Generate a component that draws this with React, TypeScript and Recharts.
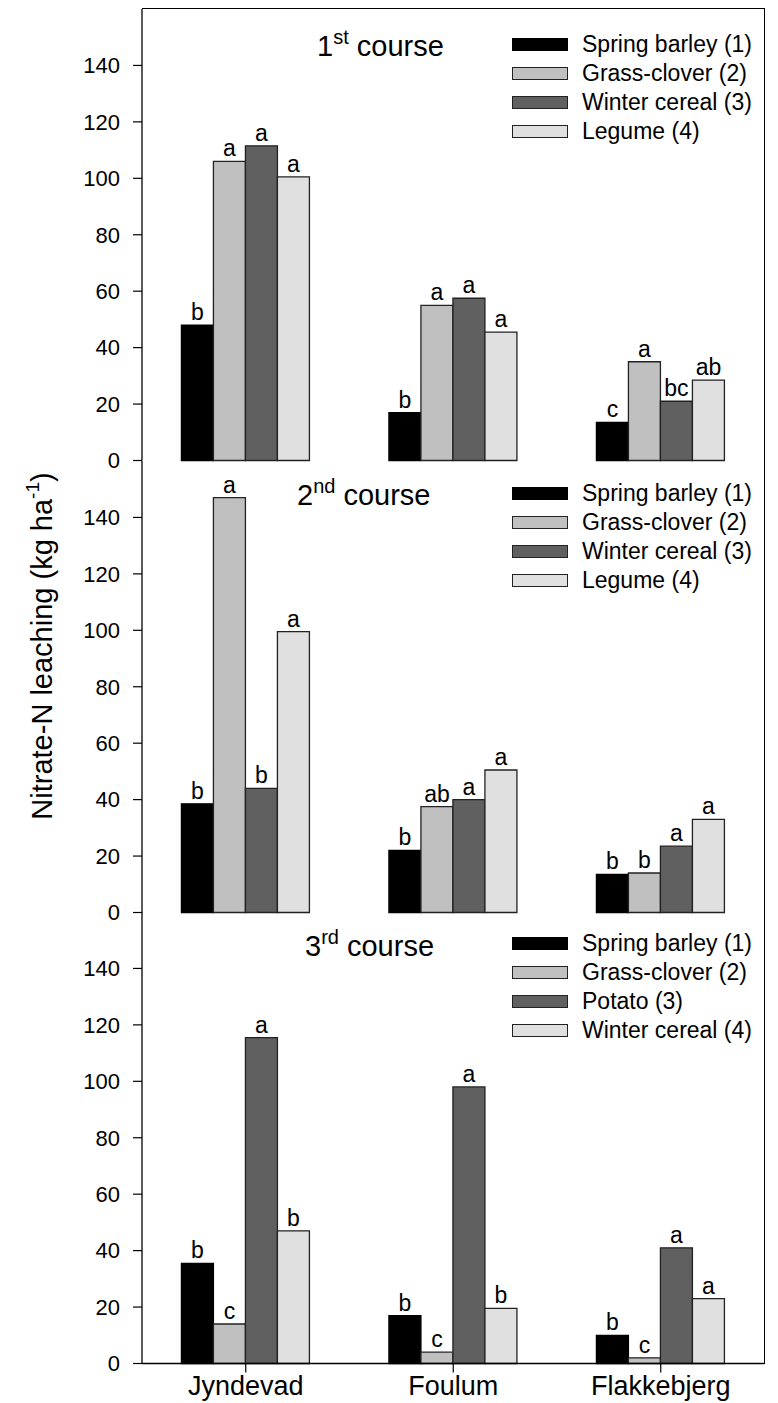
import React from 'react';
import { BarChart, Bar, XAxis, YAxis, LabelList, Legend } from 'recharts';

const sites = ['Jyndevad', 'Foulum', 'Flakkebjerg'];
const yTicks = [0, 20, 40, 60, 80, 100, 120, 140];

// 1st course
const names1 = ['Spring barley (1)', 'Grass-clover (2)', 'Winter cereal (3)', 'Legume (4)'];
const c1SpringBarley = [48, 17, 13.5];
const c1GrassClover = [106, 55, 35];
const c1WinterCereal = [111.5, 57.5, 21];
const c1Legume = [100.5, 45.5, 28.5];
const c1Letters = [['b', 'a', 'a', 'a'], ['b', 'a', 'a', 'a'], ['c', 'a', 'bc', 'ab']];

// 2nd course
const names2 = ['Spring barley (1)', 'Grass-clover (2)', 'Winter cereal (3)', 'Legume (4)'];
const c2SpringBarley = [38.5, 22, 13.5];
const c2GrassClover = [147, 37.5, 14];
const c2WinterCereal = [44, 40, 23.5];
const c2Legume = [99.5, 50.5, 33];
const c2Letters = [['b', 'a', 'b', 'a'], ['b', 'ab', 'a', 'a'], ['b', 'b', 'a', 'a']];

// 3rd course
const names3 = ['Spring barley (1)', 'Grass-clover (2)', 'Potato (3)', 'Winter cereal (4)'];
const c3SpringBarley = [35.5, 17, 10];
const c3GrassClover = [14, 4, 2];
const c3Potato = [115.5, 98, 41];
const c3WinterCereal = [47, 19.5, 23];
const c3Letters = [['b', 'c', 'a', 'b'], ['b', 'c', 'a', 'b'], ['b', 'c', 'a', 'a']];

const fills = ['#000000', '#c0c0c0', '#606060', '#e0e0e0'];
const FONT = '"Liberation Sans", Arial, sans-serif';

const buildRows = (series: number[][], letters: string[][]) =>
  sites.map((site, i) => ({
    site,
    v1: series[0][i], v2: series[1][i], v3: series[2][i], v4: series[3][i],
    l1: letters[i][0], l2: letters[i][1], l3: letters[i][2], l4: letters[i][3],
  }));

const PH = 451.5;
const MT = 14;
const PLOT_LEFT = 142;
const PLOT_RIGHT = 764.5;

const LegendBox = ({ names }: { names: string[] }) => (
  <div style={{ fontFamily: FONT }}>
    {names.map((n, i) => (
      <div key={i} style={{ display: 'flex', alignItems: 'center', height: 29 }}>
        <div
          style={{
            width: 54,
            height: 11,
            background: fills[i],
            border: '1.5px solid ' + (i === 0 ? '#000' : '#222'),
            marginRight: 14,
          }}
        />
        <span style={{ fontSize: 23, color: '#000', whiteSpace: 'nowrap' }}>{n}</span>
      </div>
    ))}
  </div>
);

type PanelProps = {
  rows: any[];
  names: string[];
  plotTop: number;
  showX: boolean;
  legendTop: number;
  topBorder: boolean;
};

const Panel = ({ rows, names, plotTop, showX, legendTop, topBorder }: PanelProps) => {
  const xh = showX ? 42 : 0;
  const mb = showX ? 0 : 14;
  const height = MT + PH + xh + mb;
  return (
    <>
      <div style={{ position: 'absolute', left: 0, top: plotTop - MT }}>
        <BarChart
          width={778}
          height={height}
          data={rows}
          margin={{ top: MT, right: 778 - PLOT_RIGHT, bottom: mb, left: 0 }}
          barCategoryGap="19%"
          barGap={0}
        >
          <XAxis
            dataKey="site"
            height={xh}
            axisLine={{ stroke: '#000', strokeWidth: 1.3 }}
            tickLine={showX ? { stroke: '#000', strokeWidth: 1.2 } : false}
            tick={showX ? { fontSize: 27, fill: '#000', fontFamily: FONT } : false}
            tickSize={9}
            tickMargin={3}
            interval={0}
          />
          <YAxis
            width={PLOT_LEFT}
            domain={[0, 160]}
            ticks={yTicks}
            interval={0}
            axisLine={{ stroke: '#000', strokeWidth: 1.3 }}
            tickLine={{ stroke: '#000', strokeWidth: 1.2 }}
            tickSize={9}
            tickMargin={13}
            tick={{ fontSize: 22, fill: '#000', fontFamily: FONT }}
          />
          <Legend
            layout="vertical"
            align="center"
            verticalAlign="middle"
            content={<LegendBox names={names} />}
            wrapperStyle={{ left: 512, top: legendTop - (plotTop - MT), width: 262 }}
          />
          {['v1', 'v2', 'v3', 'v4'].map((k, i) => (
            <Bar
              key={k}
              dataKey={k}
              name={names[i]}
              fill={fills[i]}
              stroke={i === 0 ? '#000' : '#222'}
              strokeWidth={1.3}
              isAnimationActive={false}
            >
              <LabelList dataKey={'l' + (i + 1)} position="top" offset={5} fill="#000" fontSize={23} fontFamily={FONT} />
            </Bar>
          ))}
        </BarChart>
      </div>
      <div
        style={{
          position: 'absolute',
          left: PLOT_LEFT,
          top: plotTop - (topBorder ? 0.65 : 0),
          width: PLOT_RIGHT - PLOT_LEFT - 0.65,
          height: PH,
          borderRight: '1.3px solid #000',
          borderTop: topBorder ? '1.3px solid #000' : 'none',
          pointerEvents: 'none',
        }}
      />
    </>
  );
};

const Title = ({ x, y, num, sup }: { x: number; y: number; num: string; sup: string }) => (
  <text x={x} y={y} fontSize={29} fontFamily={FONT} fill="#000">
    {num}
    <tspan dy={-12} fontSize={20}>{sup}</tspan>
    <tspan dy={12}> course</tspan>
  </text>
);

export default function App() {
  const rows1 = buildRows([c1SpringBarley, c1GrassClover, c1WinterCereal, c1Legume], c1Letters);
  const rows2 = buildRows([c2SpringBarley, c2GrassClover, c2WinterCereal, c2Legume], c2Letters);
  const rows3 = buildRows([c3SpringBarley, c3GrassClover, c3Potato, c3WinterCereal], c3Letters);
  const top1 = 9;
  const top2 = top1 + PH;
  const top3 = top2 + PH;
  return (
    <div style={{ position: 'absolute', left: 0, top: 0, width: 778, height: 1403, background: '#fff', fontFamily: FONT }}>
      <Panel rows={rows1} names={names1} plotTop={top1} showX={false} legendTop={30} topBorder={true} />
      <Panel rows={rows2} names={names2} plotTop={top2} showX={false} legendTop={479} topBorder={false} />
      <Panel rows={rows3} names={names3} plotTop={top3} showX={true} legendTop={929} topBorder={false} />
      <svg width={778} height={1403} style={{ position: 'absolute', left: 0, top: 0, pointerEvents: 'none' }}>
        <Title x={317} y={56} num="1" sup="st" />
        <Title x={297} y={505} num="2" sup="nd" />
        <Title x={305} y={956} num="3" sup="rd" />
        <text
          x={42}
          y={646}
          transform="rotate(-90, 42, 646)"
          textAnchor="middle"
          dominantBaseline="central"
          fontSize={29}
          fontFamily={FONT}
          fill="#000"
        >
          Nitrate-N leaching (kg ha
          <tspan dy={-10} fontSize={19}>-1</tspan>
          <tspan dy={10}>)</tspan>
        </text>
      </svg>
    </div>
  );
}
